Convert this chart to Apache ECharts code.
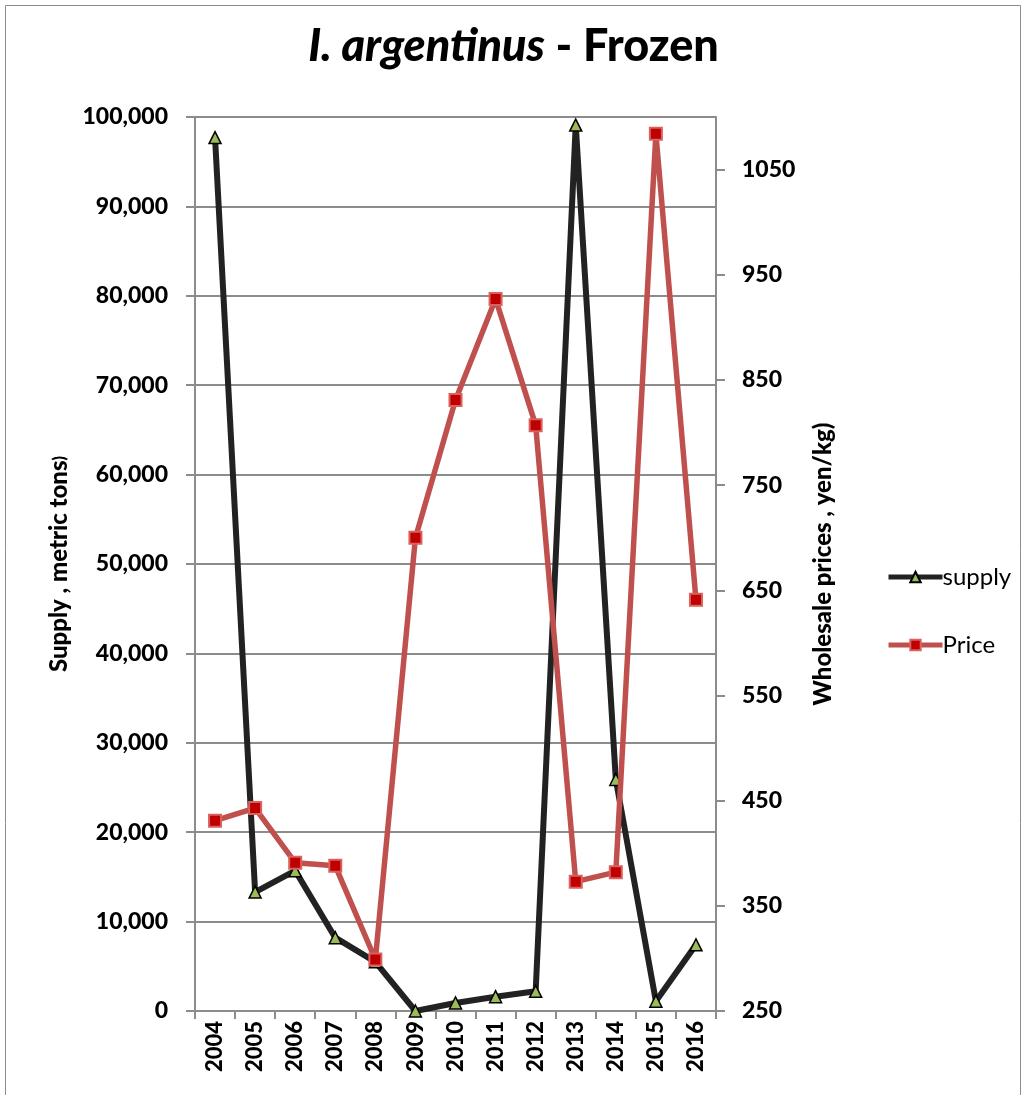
<!DOCTYPE html>
<html>
<head>
<meta charset="utf-8">
<script src="https://cdn.jsdelivr.net/npm/echarts@6/dist/echarts.min.js"></script>
<style>
  html, body { margin: 0; padding: 0; background: #fff; }
  #chart { width: 1027px; height: 1095px; }
</style>
</head>
<body>
<div id="chart"></div>
<script>
// Years on the category axis
const years = ['2004','2005','2006','2007','2008','2009','2010','2011','2012','2013','2014','2015','2016'];
// Supply, metric tons
const supply = [97700, 13300, 15700, 8200, 5500, 0, 900, 1600, 2200, 99100, 25900, 1100, 7400];
// Wholesale price, yen/kg
const price = [431, 443, 391, 388, 299, 700, 831, 927, 807, 373, 382, 1084, 641];

const FONT = 'Lato, "Open Sans", sans-serif';
const WEIGHT = 900;
const chart = echarts.init(document.getElementById('chart'));

chart.setOption({
  animation: false,
  backgroundColor: '#fff',
  title: {
    text: '{it|I. argentinus}{b| - Frozen}',
    left: 'center',
    top: 19,
    textStyle: {
      rich: {
        it: { fontFamily: FONT, fontSize: 45, fontWeight: WEIGHT, fontStyle: 'italic', color: '#000' },
        b: { fontFamily: FONT, fontSize: 45, fontWeight: WEIGHT, color: '#000' }
      }
    }
  },
  graphic: [{
    type: 'rect',
    shape: { x: 5.5, y: 5.5, width: 1015, height: 1100 },
    style: { fill: 'none', stroke: '#8c8c8c', lineWidth: 1 },
    silent: true
  }],
  legend: {
    orient: 'vertical',
    left: 881,
    top: 560,
    itemGap: 44,
    itemWidth: 54,
    itemHeight: 13,
    lineStyle: { width: 5 },
    textStyle: { fontFamily: FONT, fontSize: 24, color: '#000', padding: [0, 0, 0, -5] },
    data: ['supply', 'Price']
  },
  grid: { left: 195, right: 311, top: 117, bottom: 84 },
  xAxis: {
    type: 'category',
    data: years,
    boundaryGap: true,
    axisLine: { lineStyle: { color: '#8c8c8c', width: 2 } },
    axisTick: { show: true, length: 8, lineStyle: { color: '#8c8c8c', width: 2 } },
    axisLabel: { rotate: 90, fontFamily: FONT, fontSize: 22, fontWeight: WEIGHT, color: '#000', margin: 10 }
  },
  yAxis: [{
    type: 'value',
    min: 0,
    max: 100000,
    interval: 10000,
    name: 'Supply , metric tons{s|)}',
    nameLocation: 'middle',
    nameGap: 123,
    nameRotate: 90,
    nameTextStyle: {
      fontFamily: FONT, fontSize: 24, fontWeight: WEIGHT, color: '#000',
      rich: { s: { fontFamily: FONT, fontSize: 16, fontWeight: WEIGHT, color: '#000' } }
    },
    axisLine: { show: true, lineStyle: { color: '#8c8c8c', width: 2 } },
    axisTick: { show: true, length: 9, lineStyle: { color: '#8c8c8c', width: 2 } },
    splitLine: { show: true, lineStyle: { color: '#8c8c8c', width: 2 } },
    axisLabel: {
      fontFamily: FONT, fontSize: 23, fontWeight: WEIGHT, color: '#000', margin: 27,
      formatter: v => v.toLocaleString('en-US')
    }
  }, {
    type: 'value',
    position: 'right',
    min: 250,
    max: 1100,
    interval: 100,
    name: 'Wholesale prices , yen/kg)',
    nameLocation: 'middle',
    nameGap: 95,
    nameRotate: 90,
    nameTextStyle: { fontFamily: FONT, fontSize: 24, fontWeight: WEIGHT, color: '#000' },
    axisLine: { show: true, lineStyle: { color: '#8c8c8c', width: 2 } },
    axisTick: { show: true, length: 9, lineStyle: { color: '#8c8c8c', width: 2 } },
    splitLine: { show: false },
    axisLabel: {
      fontFamily: FONT, fontSize: 23, fontWeight: WEIGHT, color: '#000', margin: 26,
      showMaxLabel: false,
      formatter: v => (v > 1050 ? '' : String(v))
    }
  }],
  series: [{
    name: 'supply',
    type: 'line',
    yAxisIndex: 0,
    data: supply,
    symbol: 'triangle',
    symbolSize: 12,
    lineStyle: { color: '#222222', width: 6 },
    itemStyle: { color: '#9BBB59', borderColor: '#000', borderWidth: 1.5 },
    z: 3
  }, {
    name: 'Price',
    type: 'line',
    yAxisIndex: 1,
    data: price,
    symbol: 'rect',
    symbolSize: 12,
    lineStyle: { color: '#C0504D', width: 5.5 },
    itemStyle: { color: '#C00000', borderColor: '#D9625F', borderWidth: 2 },
    z: 4
  }]
});
</script>
</body>
</html>
